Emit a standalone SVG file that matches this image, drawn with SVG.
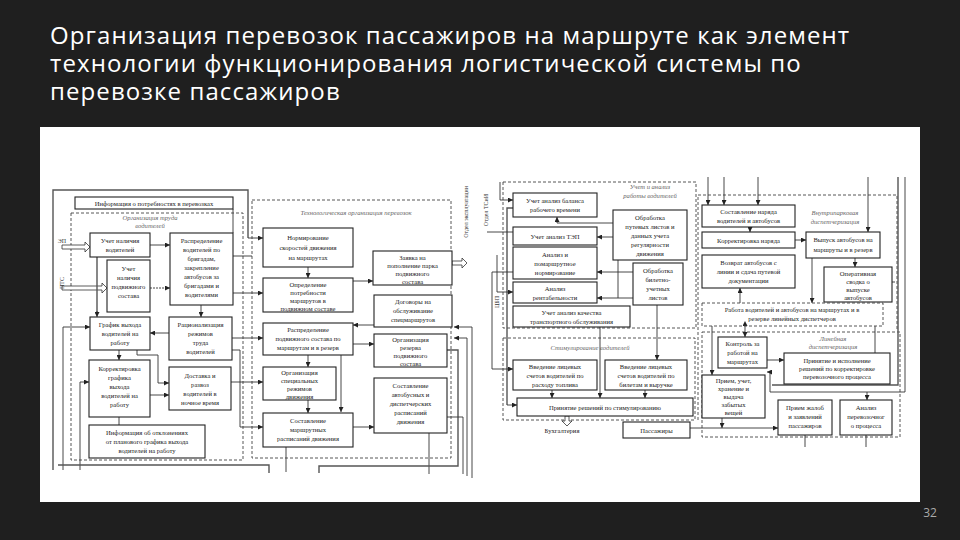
<svg xmlns="http://www.w3.org/2000/svg" width="960" height="540" viewBox="0 0 960 540">
<defs>
<marker id="ar" viewBox="0 0 6 6" refX="6" refY="3" markerWidth="5" markerHeight="5" markerUnits="userSpaceOnUse" orient="auto"><path d="M0,0 L6,3 L0,6 z" fill="#222"/></marker>
<marker id="as" viewBox="0 0 6 6" refX="0" refY="3" markerWidth="5" markerHeight="5" markerUnits="userSpaceOnUse" orient="auto-start-reverse"><path d="M0,0 L6,3 L0,6 z" fill="#222"/></marker>
</defs>
<style>
.ttl{font-family:"Open Sans","Noto Sans",sans-serif;font-size:24px;letter-spacing:1.1px;fill:#fff}
.b{fill:#fff;stroke:#222;stroke-width:1.1}
.d{fill:none;stroke:#444;stroke-width:0.9;stroke-dasharray:3 2}
.t{font-family:"Liberation Serif",serif;font-size:6.6px;fill:#222;text-anchor:middle}
.i{font-family:"Liberation Serif",serif;font-size:6.6px;font-style:italic;fill:#666;text-anchor:middle}
.v{font-family:"Liberation Serif",serif;font-size:6px;fill:#333;text-anchor:middle}
.c{fill:none;stroke:#333;stroke-width:0.9}
.c2{fill:none;stroke:#555;stroke-width:1.4}
.a{marker-end:url(#ar)}
.h{fill:#fff;stroke:#333;stroke-width:0.8}
</style>
<rect x="0" y="0" width="960" height="540" fill="#1f1f1f"/>
<text class="ttl" x="50" y="44">Организация перевозок пассажиров на маршруте как элемент</text>
<text class="ttl" x="50" y="72">технологии функционирования логистической системы по</text>
<text class="ttl" x="50" y="100">перевозке пассажиров</text>
<rect x="40" y="127" width="880" height="375" fill="#fff"/>
<text x="930" y="517" font-family="Open Sans, sans-serif" font-size="12" fill="#aaa" text-anchor="middle">32</text>

<g id="frames">
<rect class="d" x="71" y="213" width="172" height="247"/>
<text class="i" x="150" y="220">Организация труда</text>
<text class="i" x="150" y="228">водителей</text>
<rect class="d" x="252" y="200" width="199" height="258"/>
<text class="i" x="356" y="215">Технологическая организация перевозок</text>
<rect class="d" x="503" y="182" width="193" height="146"/>
<text class="i" x="650" y="189">Учет и анализ</text>
<text class="i" x="650" y="198">работы водителей</text>
<rect class="d" x="503" y="338" width="192" height="82"/>
<text class="i" x="590" y="350">Стимулирование водителей</text>
<path class="d" d="M698,420 V195 H897 V330"/>
<text class="i" x="835" y="215">Внутрипарковая</text>
<text class="i" x="835" y="224">диспетчеризация</text>
<rect class="d" x="702" y="332" width="198" height="105"/>
<text class="i" x="833" y="341">Линейная</text>
<text class="i" x="833" y="349">диспетчеризация</text>
</g>

<g id="connectors">
<path class="c2" d="M53,470 V190 H248 V238"/>
<path class="c a" d="M248,238 H263"/>
<path class="h" d="M62,245 H85 V242 L90,247 L85,252 V249 H62 z"/>
<path class="h" d="M62,286 H102 V283 L107,288 L102,293 V290 H62 z"/>
<path class="c a" d="M150,245 H170"/>
<path class="c a" d="M150,288 H170" stroke-dasharray="2 1"/>
<path class="c2" d="M97,257 V312"/>
<path class="c a" d="M97,311 V317"/>
<path class="c a" d="M201,305 V317"/>
<path class="c a" d="M169,333 H150"/>
<path class="c a" d="M119,350 V360"/>
<path class="c a" d="M137,350 V355 H158 V383 H169"/>
<path class="c a" d="M150,395 H169"/>
<path class="c" d="M119,417 V425"/>
<path class="c a" d="M63,470 V327 H90"/>
<path class="c a" d="M80,470 V382 H89"/>
<path class="c" d="M233,209 V233"/>
<path class="c" d="M233,256 H252"/>
<path class="c a" d="M233,293 H263"/>
<path class="c a" d="M232,338 H263"/>
<path class="c a" d="M232,350 H240 V427 H263"/>
<path class="c a" d="M231,382 H263"/>
<path class="c a" d="M308,267 V278"/>
<path class="c a" d="M353,281 H373"/>
<path class="h" d="M452,261 H462 V258 L467,263 L462,268 V265 H452 z"/>
<path class="c a" d="M374,325 H353"/>
<path class="c a" d="M353,344 H374"/>
<path class="c a" d="M308,355 V367"/>
<path class="c a" d="M308,400 V413"/>
<path class="c a" d="M341,355 V412"/>
<path class="c a" d="M353,427 H374"/>
<path class="c" d="M286,447 V472"/>
<path class="c" d="M429,433 V474"/>
<path class="c2" d="M58,465 H269 V473"/>
<path class="c2" d="M319,473 V466 H458 V350 H447"/>
<path class="c" d="M447,417 H463 V474"/>
<path class="c a" d="M472,478 V327 H454"/>
<path class="c a" d="M467,476 V338 H454"/>
<path class="c a" d="M500,182 V200 H513"/>
<path class="c2" d="M513,208 H507 V405"/>
<path class="c a" d="M507,405 H517"/>
<path class="c" d="M487,232 H513"/>
<path class="c a" d="M513,272 H492 V369 H513"/>
<path class="c a" d="M497,255 V292 H513"/>
<path class="c a" d="M613,237 H597"/>
<path class="c a" d="M613,223 H557 V217"/>
<path class="c a" d="M633,272 H597"/>
<path class="c a" d="M633,298 H597"/>
<path class="c" d="M618,260 V298"/>
<path class="c a" d="M600,327 V398"/>
<path class="c a" d="M657,305 V360"/>
<path class="c a" d="M552,390 V398"/>
<path class="c a" d="M645,390 V398"/>
<path class="h" d="M565,416 V421 H562 L567,426 L572,421 H569 V416 z"/>
<path class="c a" d="M690,428 H778"/>
<path class="c a" d="M708,177 V205"/>
<path class="c a" d="M724,177 V205"/>
<path class="c a" d="M758,177 V205"/>
<path class="c a" d="M868,177 V232"/>
<path class="c2" d="M898,177 V385 H772"/>
<path class="c a" d="M905,177 V392 H770 V372 H767"/>
<path class="c" d="M892,282 H895"/>
<path class="c a" d="M795,240 H806"/>
<path class="c a" d="M855,258 V267"/>
<path class="c a" d="M750,227 V232"/>
<path class="c a" d="M740,303 V288"/>
<path class="c a" d="M812,258 V303"/>
<path class="c a" d="M745,326 V337" marker-start="url(#as)"/>
<path class="c a" d="M767,360 H784" marker-start="url(#as)"/>
<path class="c a" d="M712,326 V375"/>
<path class="c a" d="M867,392 V400"/>
<path class="c" d="M875,326 V353"/>
<path class="c" d="M805,435 V447"/>
<path class="c" d="M866,435 V447"/>
<path class="c a" d="M722,418 V428"/>
</g>

<g id="side-labels">
<text class="v" x="62" y="243">ЭП</text>
<text class="v" transform="translate(64,283) rotate(-90)">ПТС</text>
<text class="v" transform="translate(468,212) rotate(-90)">Отдел эксплуатации</text>
<text class="v" transform="translate(488,210) rotate(-90)">Отдел ТСиИ</text>
<text class="v" transform="translate(499,302) rotate(-90)">ЦБП</text>
</g>

<g id="n1"><rect class="b" x="75" y="197" width="158" height="12"/><text class="t" x="154" y="205.5">Информация о потребностях в перевозках</text></g>
<g id="n2"><rect class="b" x="90" y="233" width="60" height="24"/><text class="t" x="120" y="243">Учет наличия</text><text class="t" x="120" y="252">водителей</text></g>
<g id="n3"><rect class="b" x="170" y="233" width="63" height="72"/><text class="t" x="201.5" y="243">Распределение</text><text class="t" x="201.5" y="252">водителей по</text><text class="t" x="201.5" y="261">бригадам,</text><text class="t" x="201.5" y="270">закрепление</text><text class="t" x="201.5" y="279">автобусов за</text><text class="t" x="201.5" y="288">бригадами и</text><text class="t" x="201.5" y="297">водителями</text></g>
<g id="n4"><rect class="b" x="107" y="260" width="43" height="52"/><text class="t" x="128.5" y="271">Учет</text><text class="t" x="128.5" y="280">наличия</text><text class="t" x="128.5" y="289">подвижного</text><text class="t" x="128.5" y="298">состава</text></g>
<g id="n5"><rect class="b" x="90" y="317" width="60" height="33"/><text class="t" x="120" y="327">График выхода</text><text class="t" x="120" y="336">водителей на</text><text class="t" x="120" y="345">работу</text></g>
<g id="n6"><rect class="b" x="169" y="317" width="63" height="43"/><text class="t" x="200.5" y="327">Рационализация</text><text class="t" x="200.5" y="336">режимов</text><text class="t" x="200.5" y="345">труда</text><text class="t" x="200.5" y="354">водителей</text></g>
<g id="n7"><rect class="b" x="89" y="360" width="61" height="57"/><text class="t" x="119.5" y="371">Корректировка</text><text class="t" x="119.5" y="380">графика</text><text class="t" x="119.5" y="389">выхода</text><text class="t" x="119.5" y="398">водителей на</text><text class="t" x="119.5" y="407">работу</text></g>
<g id="n8"><rect class="b" x="169" y="367" width="62" height="43"/><text class="t" x="200" y="378">Доставка и</text><text class="t" x="200" y="387">развоз</text><text class="t" x="200" y="396">водителей в</text><text class="t" x="200" y="405">ночное время</text></g>
<g id="n9"><rect class="b" x="89" y="425" width="116" height="33"/><text class="t" x="147" y="435">Информация об отклонениях</text><text class="t" x="147" y="444">от планового графика выхода</text><text class="t" x="147" y="453">водителей на работу</text></g>

<g id="n10"><rect class="b" x="263" y="228" width="90" height="39"/><text class="t" x="308" y="240">Нормирование</text><text class="t" x="308" y="250">скоростей движения</text><text class="t" x="308" y="260">на маршрутах</text></g>
<g id="n11"><rect class="b" x="263" y="278" width="90" height="34"/><text class="t" x="308" y="287">Определение</text><text class="t" x="308" y="295">потребности</text><text class="t" x="308" y="303">маршрутов в</text><text class="t" x="308" y="311">подвижном составе</text></g>
<g id="n12"><rect class="b" x="373" y="251" width="79" height="34"/><text class="t" x="412.5" y="260">Заявка на</text><text class="t" x="412.5" y="268">пополнение парка</text><text class="t" x="412.5" y="276">подвижного</text><text class="t" x="412.5" y="284">состава</text></g>
<g id="n13"><rect class="b" x="374" y="295" width="78" height="32"/><text class="t" x="413" y="304">Договоры на</text><text class="t" x="413" y="313">обслуживание</text><text class="t" x="413" y="322">спецмаршрутов</text></g>
<g id="n14"><rect class="b" x="263" y="323" width="90" height="32"/><text class="t" x="308" y="332">Распределение</text><text class="t" x="308" y="341">подвижного состава по</text><text class="t" x="308" y="350">маршрутам и в резерв</text></g>
<g id="n15"><rect class="b" x="374" y="334" width="73" height="33"/><text class="t" x="410.5" y="342">Организация</text><text class="t" x="410.5" y="350">резерва</text><text class="t" x="410.5" y="358">подвижного</text><text class="t" x="410.5" y="366">состава</text></g>
<g id="n16"><rect class="b" x="263" y="367" width="73" height="33"/><text class="t" x="299.5" y="375">Организация</text><text class="t" x="299.5" y="383">специальных</text><text class="t" x="299.5" y="391">режимов</text><text class="t" x="299.5" y="399">движения</text></g>
<g id="n17"><rect class="b" x="263" y="413" width="90" height="34"/><text class="t" x="308" y="423">Составление</text><text class="t" x="308" y="432">маршрутных</text><text class="t" x="308" y="441">расписаний движения</text></g>
<g id="n18"><rect class="b" x="374" y="378" width="73" height="55"/><text class="t" x="410.5" y="388">Составление</text><text class="t" x="410.5" y="397">автобусных и</text><text class="t" x="410.5" y="406">диспетчерских</text><text class="t" x="410.5" y="415">расписаний</text><text class="t" x="410.5" y="424">движения</text></g>

<g id="n19"><rect class="b" x="513" y="193" width="84" height="24"/><text class="t" x="555" y="203">Учет анализ баланса</text><text class="t" x="555" y="212">рабочего времени</text></g>
<g id="n20"><rect class="b" x="513" y="227" width="84" height="18"/><text class="t" x="555" y="239">Учет анализ ТЭП</text></g>
<g id="n21"><rect class="b" x="513" y="247" width="84" height="32"/><text class="t" x="555" y="257">Анализ и</text><text class="t" x="555" y="266">помаршрутное</text><text class="t" x="555" y="275">нормирование</text></g>
<g id="n22"><rect class="b" x="513" y="282" width="84" height="21"/><text class="t" x="555" y="291">Анализ</text><text class="t" x="555" y="300">рентабельности</text></g>
<g id="n23"><rect class="b" x="513" y="306" width="117" height="21"/><text class="t" x="571.5" y="315">Учет анализ качества</text><text class="t" x="571.5" y="324">транспортного обслуживания</text></g>
<g id="n24"><rect class="b" x="613" y="210" width="74" height="50"/><text class="t" x="650" y="220">Обработка</text><text class="t" x="650" y="229">путевых листов и</text><text class="t" x="650" y="238">данных учета</text><text class="t" x="650" y="247">регулярности</text><text class="t" x="650" y="256">движения</text></g>
<g id="n25"><rect class="b" x="633" y="263" width="50" height="42"/><text class="t" x="658" y="273">Обработка</text><text class="t" x="658" y="282">билетно-</text><text class="t" x="658" y="291">учетных</text><text class="t" x="658" y="300">листов</text></g>
<g id="n26"><rect class="b" x="513" y="360" width="84" height="30"/><text class="t" x="555" y="369">Введение лицевых</text><text class="t" x="555" y="378">счетов водителей по</text><text class="t" x="555" y="387">расходу топлива</text></g>
<g id="n27"><rect class="b" x="605" y="360" width="82" height="30"/><text class="t" x="646" y="369">Введение лицевых</text><text class="t" x="646" y="378">счетов водителей по</text><text class="t" x="646" y="387">билетам и выручке</text></g>
<g id="n28"><rect class="b" x="517" y="398" width="176" height="18"/><text class="t" x="605" y="410">Принятие решений по стимулированию</text></g>
<g id="n29"><text class="t" x="562" y="433">Бухгалтерия</text></g>
<g id="n30"><rect class="b" x="623" y="422" width="67" height="16"/><text class="t" x="656.5" y="433">Пассажиры</text></g>

<g id="n31"><rect class="b" x="702" y="205" width="93" height="22"/><text class="t" x="748.5" y="214">Составление наряда</text><text class="t" x="748.5" y="223">водителей и автобусов</text></g>
<g id="n32"><rect class="b" x="702" y="232" width="93" height="16"/><text class="t" x="748.5" y="243">Корректировка наряда</text></g>
<g id="n33"><rect class="b" x="806" y="232" width="74" height="26"/><text class="t" x="843" y="242">Выпуск автобусов на</text><text class="t" x="843" y="252">маршруты и в резерв</text></g>
<g id="n34"><rect class="b" x="702" y="255" width="93" height="33"/><text class="t" x="748.5" y="265">Возврат автобусов с</text><text class="t" x="748.5" y="274">линии и сдача путевой</text><text class="t" x="748.5" y="283">документации</text></g>
<g id="n35"><rect class="b" x="824" y="267" width="68" height="35"/><text class="t" x="858" y="276">Оперативная</text><text class="t" x="858" y="284">сводка о</text><text class="t" x="858" y="292">выпуске</text><text class="t" x="858" y="300">автобусов</text></g>
<g id="n36"><rect class="d" x="702" y="303" width="181" height="23" fill="#fff"/><text class="t" x="792" y="312">Работа водителей и автобусов на маршрутах и в</text><text class="t" x="792" y="321">резерве линейных диспетчеров</text></g>
<g id="n37"><rect class="b" x="718" y="337" width="49" height="31"/><text class="t" x="742.5" y="346">Контроль за</text><text class="t" x="742.5" y="355">работой на</text><text class="t" x="742.5" y="364">маршрутах</text></g>
<g id="n38"><rect class="b" x="784" y="353" width="106" height="31"/><text class="t" x="837" y="363">Принятие и исполнение</text><text class="t" x="837" y="371">решений по корректировке</text><text class="t" x="837" y="379">перевозочного процесса</text></g>
<g id="n39"><rect class="b" x="702" y="375" width="63" height="43"/><text class="t" x="733.5" y="383">Прием, учет,</text><text class="t" x="733.5" y="391">хранение и</text><text class="t" x="733.5" y="399">выдача</text><text class="t" x="733.5" y="407">забытых</text><text class="t" x="733.5" y="415">вещей</text></g>
<g id="n40"><rect class="b" x="778" y="400" width="54" height="35"/><text class="t" x="805" y="410">Прием жалоб</text><text class="t" x="805" y="419">и заявлений</text><text class="t" x="805" y="428">пассажиров</text></g>
<g id="n41"><rect class="b" x="840" y="400" width="52" height="35"/><text class="t" x="866" y="410">Анализ</text><text class="t" x="866" y="419">перевозочног</text><text class="t" x="866" y="428">о процесса</text></g>
</svg>
